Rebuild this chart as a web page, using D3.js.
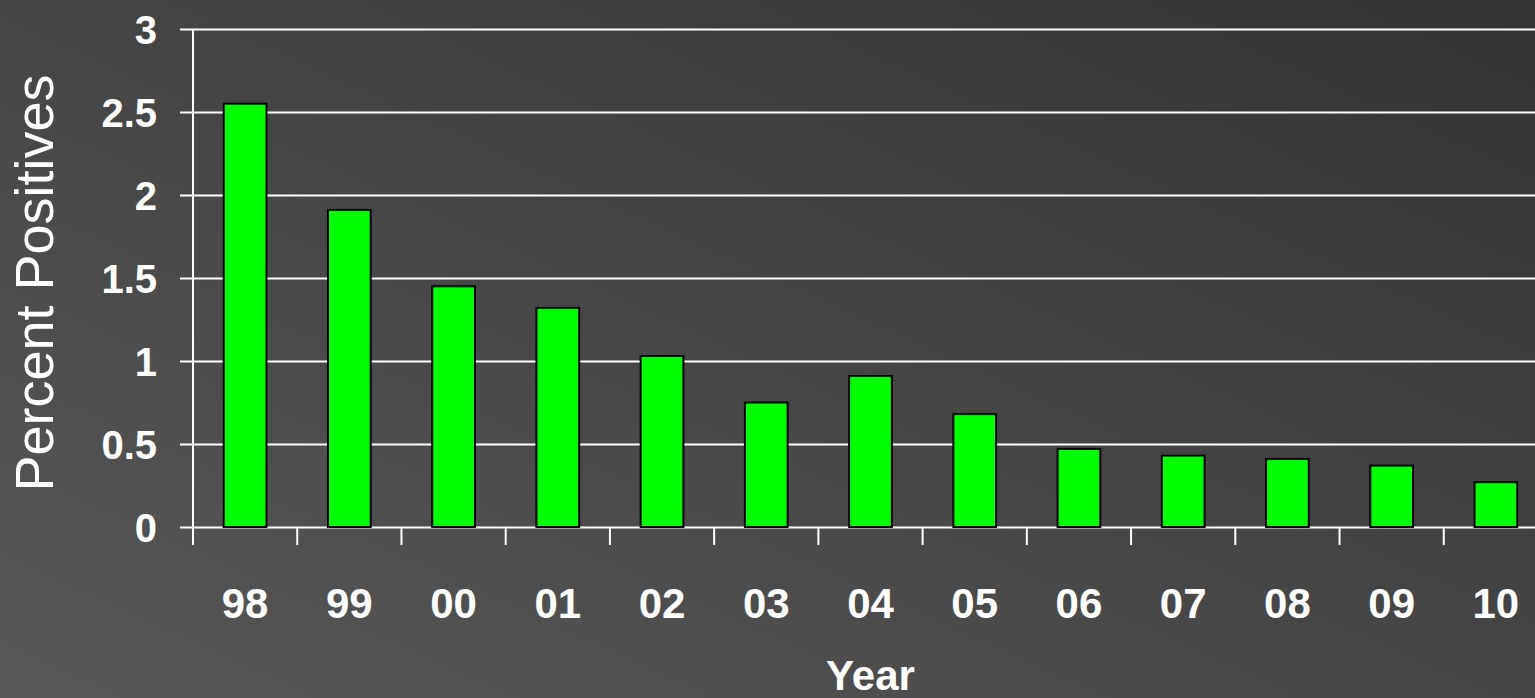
<!DOCTYPE html>
<html>
<head>
<meta charset="utf-8">
<script src="https://cdn.jsdelivr.net/npm/d3@7"></script>
<style>
  html, body { margin: 0; padding: 0; overflow: hidden; }
  body { width: 1535px; height: 698px; }
  text { font-family: "Liberation Sans", Arial, sans-serif; fill: #fff; }
</style>
</head>
<body>
<div id="chart"></div>
<script>
// datos
const years = ["98", "99", "00", "01", "02", "03", "04", "05", "06", "07", "08", "09", "10"]
const percentPositives = [2.55, 1.91, 1.45, 1.32, 1.03, 0.75, 0.91, 0.68, 0.47, 0.43, 0.41, 0.37, 0.27]
const yTicks = [0, 0.5, 1, 1.5, 2, 2.5, 3]
const yTickLabels = ["0", "0.5", "1", "1.5", "2", "2.5", "3"]

const W = 1535, H = 698
const margin = {top: 29, left: 193, bottom: 171}
const plotRight = 1548

const svg = d3.select("#chart").append("svg")
    .attr("width", W)
    .attr("height", H)

// fondo degradado
const grad = svg.append("defs").append("linearGradient")
    .attr("id", "bg")
    .attr("x1", "0").attr("y1", "1")
    .attr("x2", "1").attr("y2", "0")
grad.append("stop").attr("offset", "0%").attr("stop-color", "#585858")
grad.append("stop").attr("offset", "100%").attr("stop-color", "#333333")

svg.append("rect")
    .attr("width", W)
    .attr("height", H)
    .attr("fill", "url(#bg)")

// escalas
const x = d3.scaleBand()
    .domain(years)
    .range([margin.left, plotRight])
    .paddingInner(0.59)
    .paddingOuter(0.295)

const y = d3.scaleLinear()
    .domain([0, 3])
    .range([H - margin.bottom, margin.top])

// grilla + eje y
const yAxis = svg.append("g")
    .attr("transform", `translate(${margin.left},0)`)
    .call(d3.axisLeft(y)
        .tickValues(yTicks)
        .tickFormat((d, i) => yTickLabels[i])
        .tickSize(-(plotRight - margin.left))
        .tickPadding(0))
yAxis.select(".domain").remove()
yAxis.selectAll(".tick line")
    .attr("x1", -13)
    .attr("stroke", "#fff")
    .attr("stroke-width", 2)
yAxis.selectAll(".tick text")
    .attr("x", -36)
    .attr("dy", "0.36em")
    .attr("font-size", 40)
    .attr("font-weight", "bold")
    .attr("fill", "#fff")

// linea vertical del eje y
svg.append("line")
    .attr("x1", margin.left).attr("x2", margin.left)
    .attr("y1", y(3)).attr("y2", y(0) + 18)
    .attr("stroke", "#fff")
    .attr("stroke-width", 2)

// ticks del eje x (entre categorias)
const bandStep = x.step()
const xBoundaries = years.map((d, i) => margin.left + i * bandStep).slice(1)
svg.append("g").selectAll("line")
    .data(xBoundaries)
    .enter()
    .append("line")
    .attr("x1", d => d).attr("x2", d => d)
    .attr("y1", y(0)).attr("y2", y(0) + 18)
    .attr("stroke", "#fff")
    .attr("stroke-width", 2)

// barras
svg.append("g").selectAll("rect")
    .data(years)
    .enter()
    .append("rect")
    .attr("x", d => x(d))
    .attr("y", (d, i) => y(percentPositives[i]))
    .attr("width", x.bandwidth())
    .attr("height", (d, i) => y(0) - y(percentPositives[i]))
    .attr("fill", "#00ff00")
    .attr("stroke", "#000")
    .attr("stroke-width", 2)

// etiquetas x
svg.append("g").selectAll("text")
    .data(years)
    .enter()
    .append("text")
    .attr("x", d => x(d) + x.bandwidth() / 2)
    .attr("y", 618)
    .attr("text-anchor", "middle")
    .attr("font-size", 42)
    .attr("font-weight", "bold")
    .text(d => d)

// titulos
svg.append("text")
    .attr("x", (margin.left + plotRight) / 2)
    .attr("y", 690)
    .attr("text-anchor", "middle")
    .attr("font-size", 42)
    .attr("font-weight", "bold")
    .text("Year")

svg.append("text")
    .attr("transform", `translate(53, 283) rotate(-90)`)
    .attr("text-anchor", "middle")
    .attr("font-size", 54)
    .text("Percent Positives")
</script>
</body>
</html>
